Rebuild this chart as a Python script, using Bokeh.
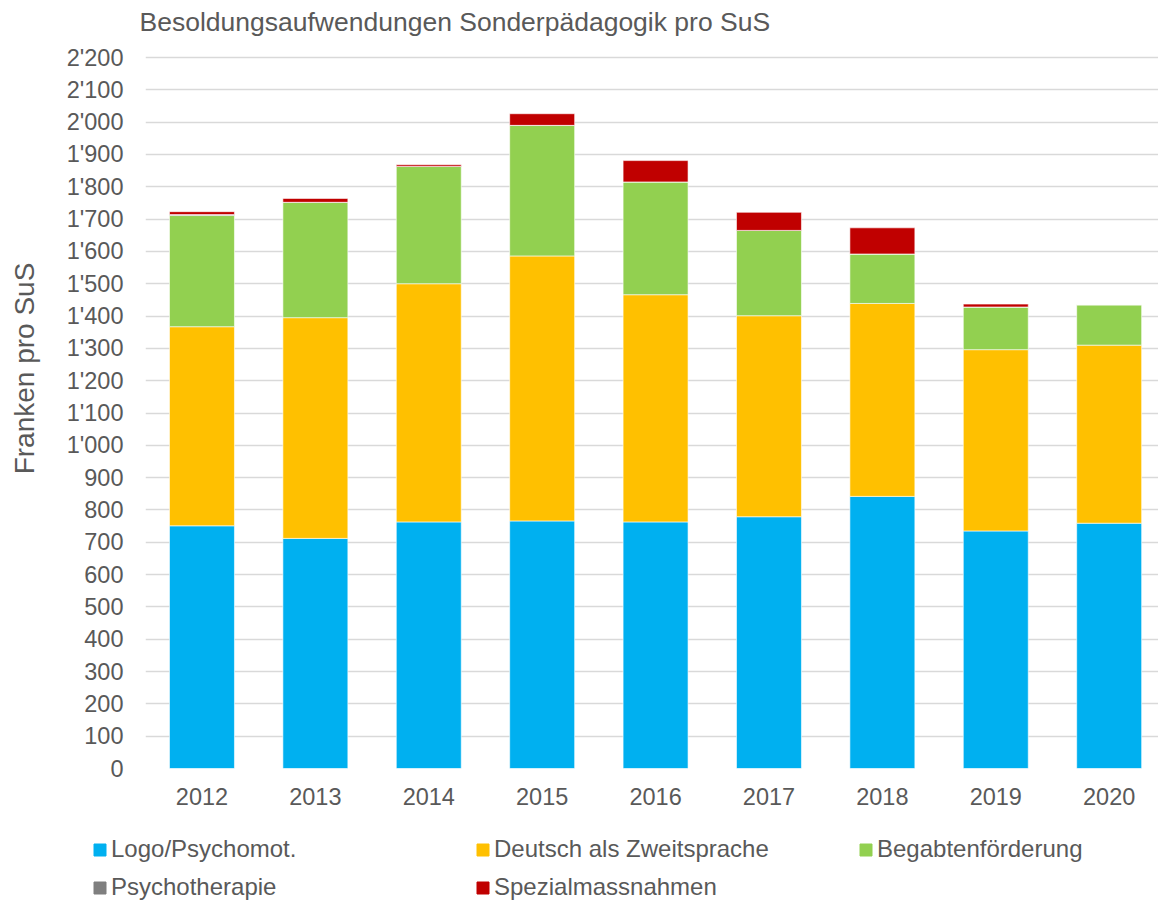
from bokeh.plotting import figure
from bokeh.models import (ColumnDataSource, Legend, FixedTicker, CustomJSTickFormatter,
                          Range1d)
from bokeh.embed import file_html
from bokeh.resources import INLINE

years = ["2012", "2013", "2014", "2015", "2016", "2017", "2018", "2019", "2020"]
logo = [751, 712, 763, 766, 763, 779, 842, 735, 759]
daz = [616, 683, 737, 820, 703, 622, 597, 561, 551]
begabten = [344, 357, 363, 404, 349, 264, 153, 132, 125]
psycho = [3, 0, 0, 0, 0, 0, 0, 0, 0]
spezial = [9, 12, 5, 36, 66, 56, 81, 9, 0]

series = ["Logo/Psychomot.", "Deutsch als Zweitsprache", "Begabtenförderung",
          "Psychotherapie", "Spezialmassnahmen"]
keys = ["logo", "daz", "begabten", "psycho", "spezial"]
colors = ["#00B0F0", "#FFC000", "#92D050", "#7F7F7F", "#C00000"]
y_ticks = list(range(0, 2201, 100))

FONT = "Liberation Sans"
TXT = "#595959"

xs = list(range(1, len(years) + 1))
src = ColumnDataSource(dict(x=xs, logo=logo, daz=daz, begabten=begabten,
                            psycho=psycho, spezial=spezial))

# frame: top at 38 px, 2200 at 57 px, 0 at 768 px
px_per_unit = (768 - 57) / 2200
y_end = (768 - 38) / px_per_unit

p = figure(width=1158, height=828, output_backend="svg", toolbar_location=None,
           x_range=Range1d(0.502, 9.435), y_range=Range1d(0, y_end),
           min_border_left=145, min_border_right=0, min_border_top=38,
           min_border_bottom=60)

renderers = p.vbar_stack(keys, x="x", width=0.573, source=src, color=colors,
                         line_color="white", line_width=0.6)

p.title.text = "Besoldungsaufwendungen Sonderpädagogik pro SuS"
p.title.text_font = FONT
p.title.text_font_size = "26.5px"
p.title.text_font_style = "normal"
p.title.text_color = TXT
p.title.align = "left"
p.title.offset = -6
p.title.standoff = 4

p.outline_line_color = None
p.xgrid.grid_line_color = None
p.ygrid.grid_line_color = "#D9D9D9"
p.ygrid.grid_line_width = 1.3
p.ygrid.ticker = FixedTicker(ticks=y_ticks)

p.yaxis.ticker = FixedTicker(ticks=y_ticks)
p.yaxis.formatter = CustomJSTickFormatter(code="""
    const t = Math.round(tick);
    if (t >= 1000) { return Math.floor(t/1000) + "'" + String(t % 1000).padStart(3, '0'); }
    return String(t);
""")
p.yaxis.major_label_standoff = 22
p.yaxis.axis_label = "\u00a0" * 9 + "Franken pro SuS"
p.yaxis.axis_label_text_font = FONT
p.yaxis.axis_label_text_font_size = "28px"
p.yaxis.axis_label_text_font_style = "normal"
p.yaxis.axis_label_text_color = TXT
p.yaxis.axis_label_standoff = 24

p.xaxis.ticker = FixedTicker(ticks=xs)
p.xaxis.major_label_overrides = {i: y for i, y in zip(xs, years)}
p.xaxis.major_label_standoff = 19

for ax in (p.xaxis, p.yaxis):
    ax.axis_line_color = None
    ax.major_tick_line_color = None
    ax.minor_tick_line_color = None
    ax.major_tick_out = 0
    ax.major_tick_in = 0
    ax.major_label_text_font = FONT
    ax.major_label_text_font_size = "23.5px"
    ax.major_label_text_color = TXT

# legend strip (same data, bars kept out of view; only the legend shows)
q = figure(width=1158, height=73, output_backend="svg", toolbar_location=None,
           x_range=Range1d(-20, -19), y_range=Range1d(0, 1),
           min_border=0, x_axis_type=None, y_axis_type=None)
q.outline_line_color = None
q.grid.visible = False
swatches = q.vbar_stack(keys, x="x", width=0.573, source=src, color=colors)

legend = Legend(items=[(s, [r]) for s, r in zip(series, swatches)],
                orientation="horizontal", ncols=3,
                label_text_font=FONT, label_text_font_size="24px",
                label_text_color=TXT, glyph_width=15, glyph_height=15,
                label_standoff=4, label_width=354, label_height=28, spacing=10,
                border_line_color=None, background_fill_alpha=0,
                margin=0, padding=0, location=(92, 0))
q.add_layout(legend)

open("out.html", "w").write(file_html([p, q], INLINE))
